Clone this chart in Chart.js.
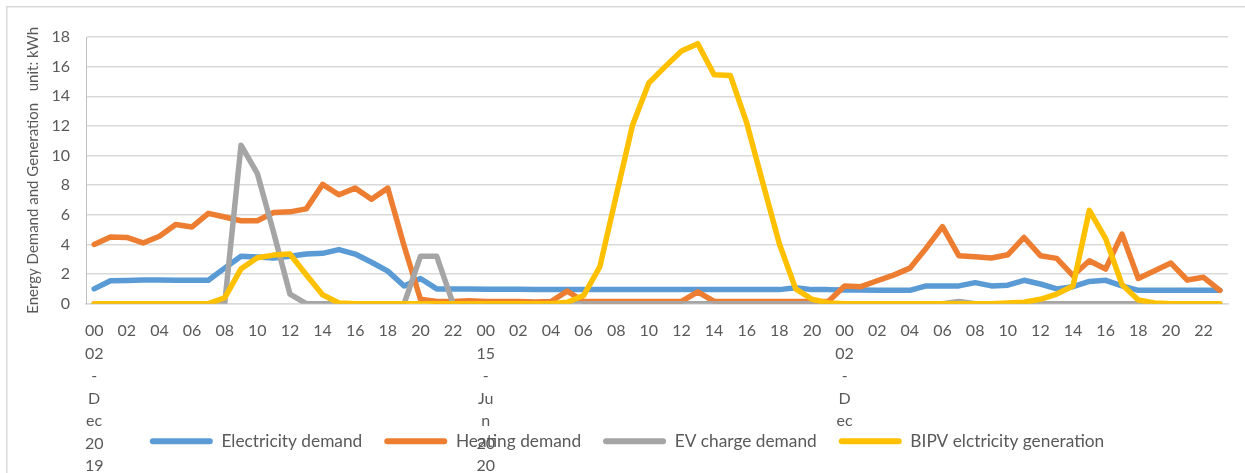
<!DOCTYPE html>
<html>
<head>
<meta charset="utf-8">
<script src="https://cdn.jsdelivr.net/npm/chart.js@4.4.0/dist/chart.umd.min.js"></script>
<style>
  html, body { margin: 0; padding: 0; background: #ffffff; }
  #wrap { width: 1245px; height: 473px; position: relative; }
</style>
</head>
<body>
<div id="wrap"><canvas id="chart" width="1245" height="473"></canvas></div>
<script>
// Hourly categories: 02-Dec-2019 (24 h), 15-Jun-2020 (00-21 h), 02-Dec (24 h)
const hours = [
  '00','01','02','03','04','05','06','07','08','09','10','11','12','13','14','15','16','17','18','19','20','21','22','23',
  '00','01','02','03','04','05','06','07','08','09','10','11','12','13','14','15','16','17','18','19','20','21',
  '00','01','02','03','04','05','06','07','08','09','10','11','12','13','14','15','16','17','18','19','20','21','22','23'
];
// Date text wrapped under the first hour of each day
const dayStartIndex = [0, 24, 46];
const dayText = [
  ['02', '-', 'D', 'ec', '20', '19'],
  ['15', '-', 'Ju', 'n', '20', '20'],
  ['02', '-', 'D', 'ec']
];

const electricityDemand = [
  1.0, 1.55, 1.57, 1.6, 1.6, 1.58, 1.58, 1.58, 2.4, 3.2, 3.15, 3.08, 3.2, 3.35, 3.4, 3.65, 3.35, 2.8, 2.2, 1.2, 1.7, 1.0, 1.0, 1.0,
  0.98, 0.97, 0.97, 0.95, 0.95, 0.95, 0.95, 0.95, 0.96, 0.96, 0.96, 0.96, 0.96, 0.96, 0.96, 0.96, 0.95, 0.95, 0.95, 1.08, 0.95, 0.95,
  0.92, 0.92, 0.9, 0.9, 0.9, 1.2, 1.2, 1.2, 1.42, 1.2, 1.25, 1.58, 1.33, 1.0, 1.15, 1.5, 1.58, 1.2, 0.9, 0.9, 0.9, 0.9, 0.9, 0.9
];
const heatingDemand = [
  4.0, 4.5, 4.47, 4.1, 4.55, 5.35, 5.18, 6.1, 5.85, 5.6, 5.6, 6.15, 6.2, 6.4, 8.05, 7.35, 7.8, 7.05, 7.8, 3.9, 0.3, 0.15, 0.15, 0.2,
  0.15, 0.15, 0.15, 0.12, 0.15, 0.85, 0.15, 0.15, 0.15, 0.15, 0.15, 0.15, 0.15, 0.8, 0.15, 0.15, 0.15, 0.15, 0.15, 0.15, 0.15, 0.15,
  1.2, 1.15, 1.55, 1.93, 2.4, 3.75, 5.2, 3.24, 3.17, 3.08, 3.3, 4.47, 3.24, 3.06, 1.9, 2.9, 2.34, 4.7, 1.7, 2.22, 2.74, 1.6, 1.78, 0.9
];
const evChargeDemand = [
  0, 0, 0, 0, 0, 0, 0, 0, 0, 10.7, 8.8, 4.8, 0.65, 0, 0, 0, 0, 0, 0, 0, 3.2, 3.2, 0, 0,
  0, 0, 0, 0, 0, 0, 0, 0, 0, 0, 0, 0, 0, 0, 0, 0, 0, 0, 0, 0, 0, 0,
  0, 0, 0, 0, 0, 0, 0, 0.15, 0, 0, 0, 0, 0, 0, 0, 0, 0, 0, 0, 0, 0, 0, 0, 0
];
const bipvGeneration = [
  0, 0, 0, 0, 0, 0, 0, 0, 0.4, 2.35, 3.1, 3.28, 3.35, 1.95, 0.6, 0.05, 0, 0, 0, 0, 0, 0, 0, 0,
  0, 0, 0, 0, 0, 0.1, 0.55, 2.5, 7.3, 12.05, 14.9, 16.0, 17.05, 17.55, 15.45, 15.4, 12.2, 8.1, 4.05, 1.0, 0.3, 0.05,
  0, 0, 0, 0, 0, 0, 0, 0, 0, 0, 0.05, 0.1, 0.3, 0.65, 1.2, 6.3, 4.4, 1.3, 0.25, 0.05, 0, 0, 0, 0
];
const yTicks = [0, 2, 4, 6, 8, 10, 12, 14, 16, 18];

const FONT = 'Lato, "Open Sans", sans-serif';
const TEXT = '#595959';
const GRID = '#d9d9d9';

function series(label, values, color, order) {
  return {
    label: label,
    data: values,
    borderColor: color,
    backgroundColor: color,
    borderWidth: 5.5,
    borderJoinStyle: 'round',
    borderCapStyle: 'round',
    pointRadius: 0,
    pointHoverRadius: 0,
    tension: 0,
    fill: false,
    order: order
  };
}

// white page with the thin outer frame of the chart object
const framePlugin = {
  id: 'frame',
  beforeDraw(chart) {
    const c = chart.ctx;
    c.save();
    c.fillStyle = '#ffffff';
    c.fillRect(0, 0, chart.width, chart.height);
    c.strokeStyle = GRID;
    c.lineWidth = 1.5;
    c.strokeRect(6.75, 6.75, chart.width + 20, chart.height + 20);
    c.restore();
  }
};

// centre the legend row under the whole canvas rather than the padded box
const legendShift = {
  id: 'legendShift',
  afterLayout(chart) {
    const lg = chart.legend;
    if (lg) { lg.left += 13; lg.right += 13; }
  }
};

new Chart(document.getElementById('chart'), {
  type: 'line',
  data: {
    labels: hours,
    datasets: [
      series('Electricity demand', electricityDemand, '#5B9BD5', 4),
      series('Heating demand', heatingDemand, '#ED7D31', 3),
      series('EV charge demand', evChargeDemand, '#A5A5A5', 2),
      series('BIPV elctricity generation', bipvGeneration, '#FFC000', 1)
    ]
  },
  options: {
    responsive: false,
    animation: false,
    devicePixelRatio: 1,
    layout: { padding: { left: 0, right: 17, top: 37, bottom: 13 } },
    plugins: {
      tooltip: { enabled: false },
      legend: {
        position: 'bottom',
        labels: {
          boxWidth: 63,
          boxHeight: 6,
          useBorderRadius: true,
          borderRadius: 3,
          padding: 22,
          color: TEXT,
          font: { family: FONT, size: 17.3 },
          sort: (a, b) => a.datasetIndex - b.datasetIndex,
          generateLabels(chart) {
            return chart.data.datasets.map((ds, i) => ({
              text: ds.label,
              fillStyle: ds.borderColor,
              strokeStyle: ds.borderColor,
              lineWidth: 0,
              borderRadius: 3,
              hidden: false,
              datasetIndex: i,
              fontColor: TEXT
            }));
          }
        }
      }
    },
    scales: {
      x: {
        offset: true,
        grid: { display: false, drawTicks: false },
        border: { display: true, color: GRID, width: 1.5 },
        afterFit(scale) {
          scale.height = 107;
          // let the wrapped date text run past the axis box, under the legend
          scale._computeLabelArea = () => undefined;
        },
        ticks: {
          autoSkip: false,
          maxRotation: 0,
          minRotation: 0,
          padding: 16,
          color: TEXT,
          font: { family: FONT, size: 16, lineHeight: 1.41 },
          callback(value, index) {
            if (index % 2 !== 0) return '';
            const d = dayStartIndex.indexOf(index);
            if (d >= 0) return [hours[index]].concat(dayText[d]);
            return hours[index];
          }
        }
      },
      y: {
        min: 0,
        max: 18,
        afterBuildTicks(scale) { scale.ticks = yTicks.map(v => ({ value: v })); },
        afterFit(scale) { scale.width = 86; },
        grid: { color: GRID, lineWidth: 1.5, drawTicks: false },
        border: { display: true, color: '#bfbfbf', width: 1 },
        ticks: {
          padding: 16,
          color: TEXT,
          font: { family: FONT, size: 16 }
        },
        title: {
          display: true,
          text: 'Energy Demand and Generation   unit: kWh',
          color: TEXT,
          font: { family: FONT, size: 15 },
          padding: { top: 24, bottom: 0 }
        }
      }
    }
  },
  plugins: [framePlugin, legendShift]
});
</script>
</body>
</html>
